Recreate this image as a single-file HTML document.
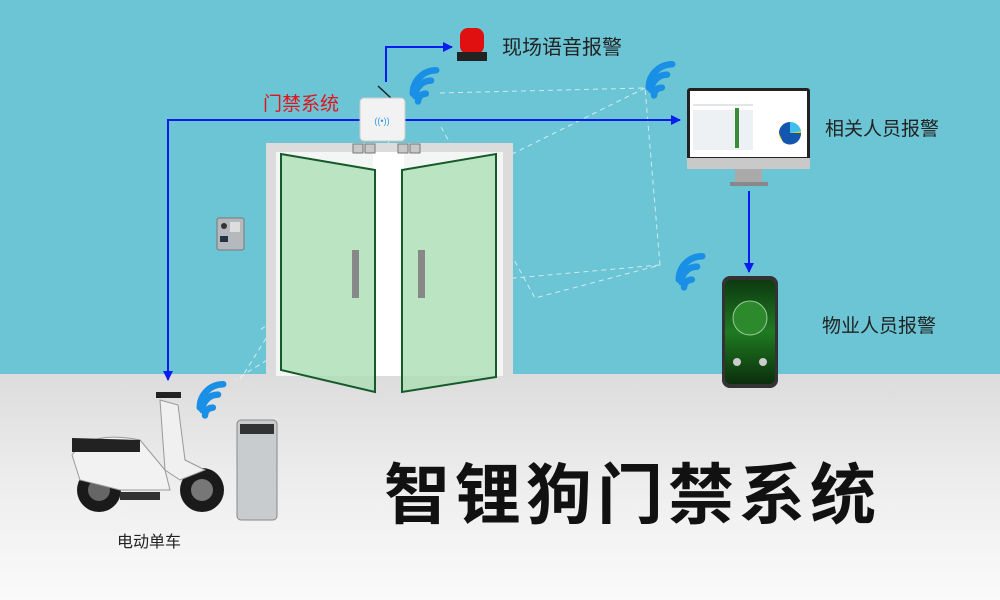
<!DOCTYPE html>
<html><head><meta charset="utf-8"><style>
html,body{margin:0;padding:0;width:1000px;height:600px;overflow:hidden}
svg text{font-family:"Liberation Sans","Noto Sans CJK SC",sans-serif}
</style></head><body>
<svg width="1000" height="600" viewBox="0 0 1000 600" xmlns="http://www.w3.org/2000/svg">
<defs>
<linearGradient id="fl" x1="0" y1="0" x2="0" y2="1"><stop offset="0" stop-color="#dcdcdc"/><stop offset="0.5" stop-color="#eeeeee"/><stop offset="1" stop-color="#fafafa"/></linearGradient>
<linearGradient id="ph" x1="0" y1="0" x2="0" y2="1"><stop offset="0" stop-color="#0d3a10"/><stop offset="0.5" stop-color="#1f7a22"/><stop offset="1" stop-color="#0b2e0c"/></linearGradient>
<marker id="ar" viewBox="0 0 10 10" refX="9" refY="5" markerWidth="5" markerHeight="5" orient="auto"><path d="M0,0L10,5L0,10z" fill="#0a1cf0"/></marker>
<g id="wf" fill="none" stroke="#1a8fe6" stroke-width="5" stroke-linecap="round" transform="scale(1.3)"><path d="M0,18 a6,6 0 0 1 6,-6"/><path d="M0,10 a12,12 0 0 1 12,-12" transform="translate(-2,4)"/><path d="M0,4 a18,18 0 0 1 18,-18" transform="translate(-4,8)"/></g>
</defs>
<rect width="1000" height="600" fill="#6cc5d5"/>
<rect y="374" width="1000" height="226" fill="url(#fl)"/>
<g stroke="#e8f4f6" stroke-width="1" stroke-dasharray="5,4" fill="none" opacity="0.8">
<path d="M440,93L645,88L660,265L535,298L440,125"/>
<path d="M390,140L240,380"/><path d="M645,88L500,160L260,330"/><path d="M660,265L380,290L235,380"/>
</g>
<rect x="266" y="143" width="247" height="233" fill="#dcdcdc"/>
<rect x="276" y="152" width="227" height="224" fill="#f4f6f5"/>
<rect x="373" y="152" width="31" height="224" fill="#ffffff"/>
<g fill="#c8c8c8" stroke="#777" stroke-width="1"><rect x="353" y="144" width="10" height="9"/><rect x="365" y="144" width="10" height="9"/><rect x="398" y="144" width="10" height="9"/><rect x="410" y="144" width="10" height="9"/></g>
<polygon points="281,154 375,170 375,392 281,370" fill="#a8deb0" fill-opacity="0.75" stroke="#155a2a" stroke-width="2"/>
<polygon points="402,170 496,154 496,377 402,392" fill="#a8deb0" fill-opacity="0.75" stroke="#155a2a" stroke-width="2"/>
<rect x="352" y="250" width="7" height="48" fill="#888"/><rect x="418" y="250" width="7" height="48" fill="#888"/>
<rect x="217" y="218" width="27" height="32" rx="2" fill="#b5b8bc" stroke="#777"/>
<circle cx="224" cy="226" r="3" fill="#333"/><rect x="220" y="236" width="8" height="6" fill="#234"/><rect x="230" y="222" width="10" height="10" fill="#ddd"/>
<g stroke="#0a1cf0" stroke-width="2" fill="none">
<path d="M362,120H168V380" marker-end="url(#ar)"/>
<path d="M405,120H680" marker-end="url(#ar)"/>
<path d="M386,82V47H452" marker-end="url(#ar)"/>
<path d="M749,191V272" marker-end="url(#ar)"/>
</g>
<line x1="378" y1="86" x2="392" y2="99" stroke="#222" stroke-width="1.5"/>
<rect x="360" y="98" width="45" height="43" rx="4" fill="#f2f2f2" stroke="#ccc"/>
<text x="382" y="124" font-size="9" fill="#3a9be0" text-anchor="middle">((•))</text>
<text x="263" y="110" font-size="19" fill="#e0141e">门禁系统</text>
<rect x="460" y="28" width="24" height="26" rx="8" fill="#e01010"/>
<rect x="457" y="52" width="30" height="9" fill="#222"/>
<text x="502" y="54" font-size="20" fill="#222">现场语音报警</text>
<use href="#wf" x="418" y="78"/><use href="#wf" x="654" y="72"/><use href="#wf" x="684" y="264"/><use href="#wf" x="205" y="392"/>
<rect x="687" y="88" width="123" height="80" rx="3" fill="#222"/>
<rect x="690" y="91" width="117" height="66" fill="#fff"/>
<rect x="687" y="158" width="123" height="11" fill="#c9c9c9"/>
<rect x="735" y="169" width="27" height="13" fill="#aaa"/><rect x="730" y="182" width="38" height="4" fill="#888"/>
<g fill="#e2e6ea"><rect x="693" y="104" width="60" height="2"/><rect x="693" y="110" width="60" height="40" fill="#eef1f3"/></g>
<rect x="735" y="108" width="4" height="40" fill="#3a8a3a"/>
<circle cx="790" cy="133" r="11" fill="#f6c500"/><path d="M790,133L790,122A11,11 0 0 1 801,131Z" fill="#3cc0f0"/><path d="M790,133L801,133A11,11 0 0 1 783,142L779,133A11,11 0 0 1 790,122Z" fill="#1256b0"/>
<text x="825" y="135" font-size="19" fill="#222">相关人员报警</text>
<rect x="722" y="276" width="56" height="112" rx="8" fill="#333"/>
<rect x="725" y="280" width="50" height="104" rx="6" fill="url(#ph)"/>
<circle cx="750" cy="318" r="17" fill="#2c8a2c" stroke="#9c9" stroke-width="1"/>
<circle cx="737" cy="362" r="4" fill="#ccc"/><circle cx="763" cy="362" r="4" fill="#ccc"/>
<text x="822" y="332" font-size="19" fill="#222">物业人员报警</text>
<g>
<circle cx="99" cy="490" r="22" fill="#1a1a1a"/><circle cx="99" cy="490" r="11" fill="#666"/>
<circle cx="202" cy="490" r="22" fill="#1a1a1a"/><circle cx="202" cy="490" r="11" fill="#777"/>
<path d="M72,455Q90,430 140,440L165,470L170,490H120L80,480Z" fill="#f2f2f2" stroke="#999"/>
<path d="M72,438L140,440L140,452L72,452Z" fill="#222"/>
<path d="M160,400L178,405L185,460L205,470L180,480L165,470Z" fill="#f0f0f0" stroke="#999"/>
<rect x="156" y="392" width="25" height="6" fill="#222"/>
<rect x="120" y="492" width="40" height="8" fill="#333"/>
</g>
<rect x="237" y="420" width="40" height="100" rx="4" fill="#c8ccce" stroke="#888"/>
<rect x="240" y="424" width="34" height="10" fill="#333"/>
<text x="117" y="547" font-size="16" fill="#222">电动单车</text>
<text x="384" y="518" font-size="66" font-weight="bold" fill="#111" letter-spacing="5">智锂狗门禁系统</text>
</svg>
</body></html>
